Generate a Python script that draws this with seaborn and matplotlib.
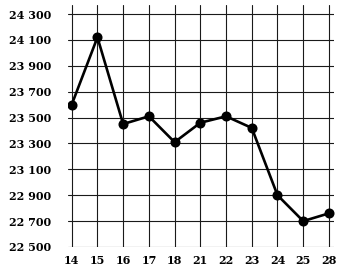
import matplotlib
matplotlib.use("Agg")
import matplotlib.pyplot as plt
import seaborn as sns
import pandas as pd

days = ["14", "15", "16", "17", "18", "21", "22", "23", "24", "25", "28"]
values = [23600, 24120, 23450, 23510, 23310, 23460, 23510, 23420, 22900, 22700, 22760]
yticks = [22500, 22700, 22900, 23100, 23300, 23500, 23700, 23900, 24100, 24300]
ytick_labels = ["22 500", "22 700", "22 900", "23 100", "23 300", "23 500",
                "23 700", "23 900", "24 100", "24 300"]

sns.set_style("white")
plt.rcParams["font.family"] = ["DejaVu Serif"]

df = pd.DataFrame({"day": days, "value": values})

fig = plt.figure(figsize=(3.48, 2.71), dpi=100)
ax = fig.add_axes([0.195, 0.0886, 0.765, 0.893])

sns.pointplot(data=df, x="day", y="value", order=days, color="black",
              markers="o", markersize=5.8, linewidth=1.9, ax=ax, zorder=5)

ax.set_ylim(22500, 24370)
ax.set_xlim(-0.15, 10.2)
ax.set_yticks(yticks)
ax.set_yticklabels(ytick_labels)
ax.grid(True, color="#1a1a1a", linewidth=0.8)
ax.set_axisbelow(True)
for s in ax.spines.values():
    s.set_visible(False)
ax.tick_params(axis="both", length=0, labelsize=8.0, colors="black")
ax.tick_params(axis="y", pad=12)
ax.tick_params(axis="x", pad=6)
for lab in ax.get_xticklabels() + ax.get_yticklabels():
    lab.set_fontweight("bold")
ax.set_xlabel("")
ax.set_ylabel("")

fig.savefig("out.png", dpi=100)
